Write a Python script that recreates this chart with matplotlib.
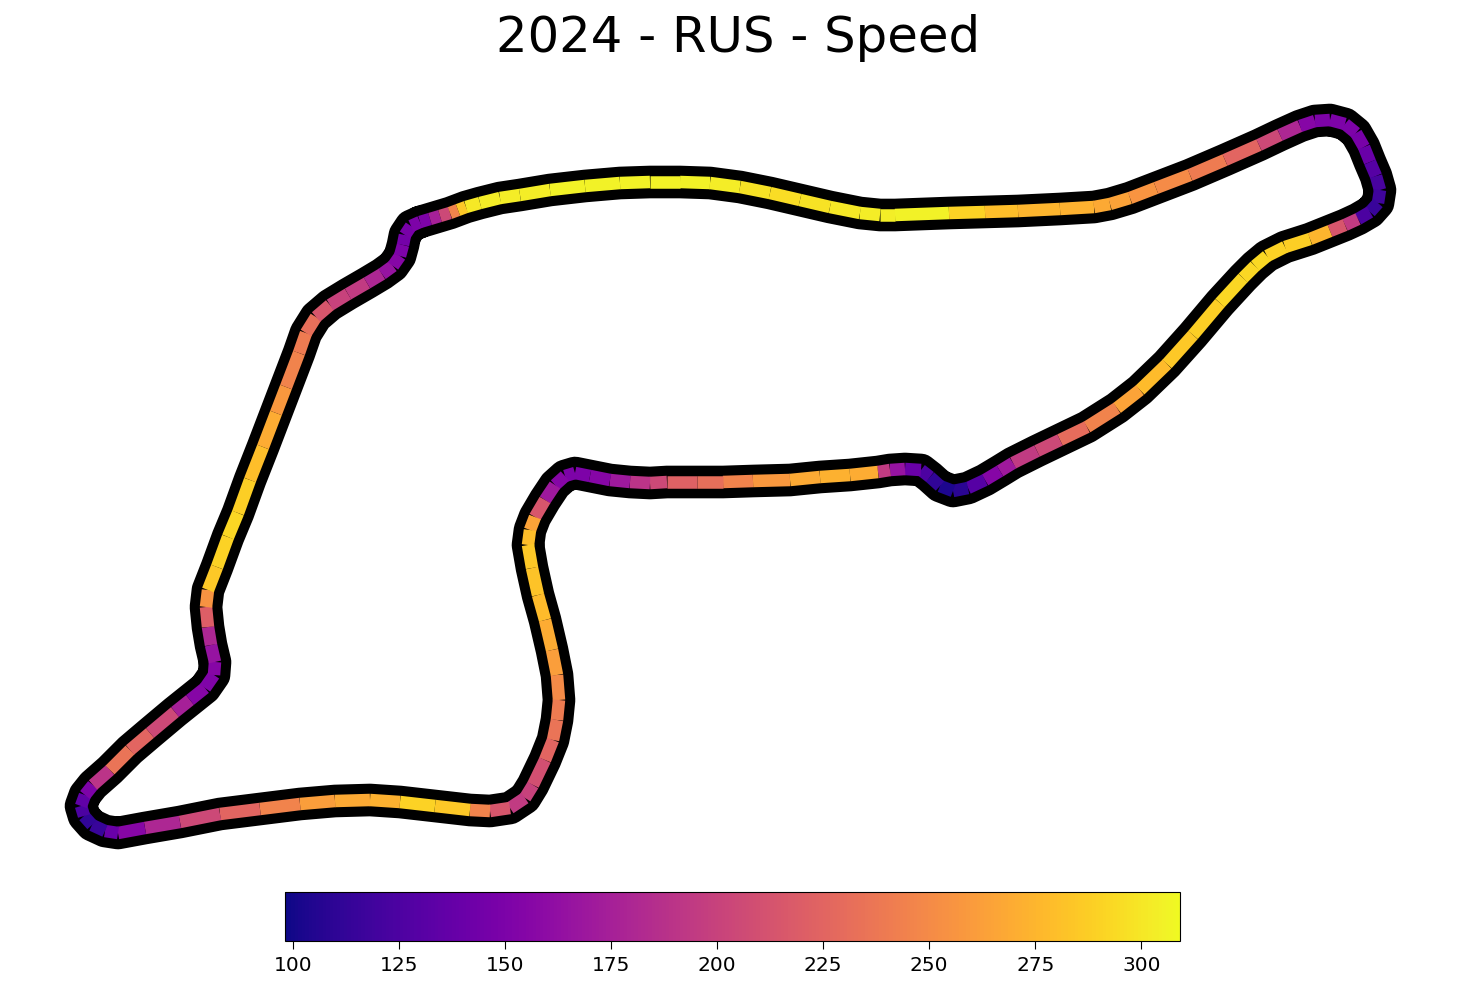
import numpy as np
import matplotlib
matplotlib.use('Agg')
import matplotlib.pyplot as plt
from matplotlib.collections import LineCollection

# track position (px), with speed in km/h at each point
track_x = [420, 430, 440, 450, 458, 466, 480, 500, 520, 550,
           585, 620, 650, 680, 710, 740, 770, 800, 830, 860,
           880, 895, 949, 985, 1018, 1060, 1094, 1110, 1130, 1156,
           1190, 1225, 1259, 1280, 1300, 1315, 1330, 1345, 1356, 1364,
           1370, 1376, 1380, 1378, 1370, 1358, 1345, 1330, 1310, 1285,
           1267, 1255, 1243, 1220, 1193, 1167, 1140, 1117, 1087, 1060,
           1037, 1013, 1000, 985, 968, 953, 940, 930, 921, 905,
           890, 878, 850, 820, 790, 753, 723, 697, 667, 650,
           630, 610, 590, 575, 565, 555, 545, 535, 530, 528,
           532, 538, 545, 552, 557, 559, 557, 553, 545, 533,
           525, 510, 490, 470, 435, 400, 370, 335, 300, 260,
           220, 180, 145, 118, 105, 92, 84, 81, 85, 93,
           110, 130, 150, 175, 190, 205, 214, 215, 211, 208,
           206, 208, 217, 228, 238, 250, 263, 276, 286, 299,
           306, 316, 330, 348, 367, 382, 393, 400, 403, 405,
           411, 420]
track_y = [222, 219, 216, 213, 210, 207, 203, 198, 195, 190,
           186, 183, 182, 182, 183, 187, 193, 200, 207, 213,
           215, 215, 213, 212, 211, 209, 207, 204, 198, 188,
           175, 160, 145, 135, 126, 121, 120, 124, 133, 147,
           162, 176, 190, 203, 212, 219, 225, 231, 239, 247,
           256, 266, 278, 303, 335, 364, 390, 408, 427, 440,
           451, 463, 471, 480, 488, 491, 486, 477, 470, 469,
           470, 472, 475, 477, 480, 481, 482, 482, 482, 483,
           482, 480, 476, 473, 476, 485, 500, 517, 530, 545,
           568, 595, 620, 650, 675, 700, 720, 740, 760, 785,
           798, 808, 811, 810, 806, 802, 800, 801, 804, 809,
           814, 822, 828, 833, 831, 825, 816, 806, 795, 785,
           770, 750, 733, 712, 700, 688, 675, 662, 645, 627,
           607, 590, 567, 537, 513, 480, 447, 413, 387, 353,
           333, 317, 305, 294, 283, 274, 266, 256, 245, 235,
           226, 222]
speed = [150, 175, 205, 245, 285, 300, 303, 303, 303, 305,
         305, 305, 305, 305, 303, 298, 295, 298, 300, 303,
         304, 305, 290, 280, 275, 272, 268, 264, 256, 250,
         240, 225, 205, 180, 155, 150, 150, 150, 148, 140,
         130, 122, 118, 115, 125, 195, 215, 275, 288, 290,
         293, 292, 292, 288, 285, 278, 265, 245, 230, 205,
         195, 170, 155, 130, 108, 103, 112, 125, 140, 165,
         195, 270, 272, 268, 258, 245, 232, 222, 205, 190,
         170, 155, 150, 150, 155, 170, 215, 265, 280, 285,
         282, 278, 270, 262, 250, 240, 235, 225, 210, 200,
         195, 215, 245, 285, 290, 272, 268, 262, 245, 225,
         205, 180, 155, 140, 115, 112, 125, 135, 150, 190,
         235, 225, 205, 175, 155, 152, 155, 165, 180, 220,
         255, 285, 290, 292, 288, 280, 270, 258, 245, 240,
         232, 215, 200, 195, 180, 165, 155, 150, 145, 148,
         150, 150]

cbar_ticks = [100, 125, 150, 175, 200, 225, 250, 275, 300]
speed_min = 98
speed_max = 309

fig = plt.figure(figsize=(14.6, 9.9), dpi=100)
ax = fig.add_axes([0, 0, 1, 1])
ax.set_xlim(0, 1460)
ax.set_ylim(990, 0)
ax.axis('off')

# thick black band under the coloured line
ax.plot(track_x, track_y, color='black', lw=23.5, solid_joinstyle='round', solid_capstyle='round', zorder=1)

points = np.array([track_x, track_y]).T.reshape(-1, 1, 2)
segments = np.concatenate([points[:-1], points[1:]], axis=1)
norm = plt.Normalize(speed_min, speed_max)
lc = LineCollection(segments, cmap='plasma', norm=norm, linewidth=9, capstyle='butt', zorder=2)
lc.set_array(np.array(speed[:-1], dtype=float))
ax.add_collection(lc)

fig.text(738 / 1460, 1 - 38 / 990, '2024 - RUS - Speed', fontsize=35.8, ha='center', va='center')

cax = fig.add_axes([284.5 / 1460, 1 - 941 / 990, 895 / 1460, 49 / 990])
cbar = fig.colorbar(lc, cax=cax, orientation='horizontal', ticks=cbar_ticks)
cbar.ax.tick_params(labelsize=14.5, length=6, pad=5)

plt.savefig('out.png', dpi=100)
